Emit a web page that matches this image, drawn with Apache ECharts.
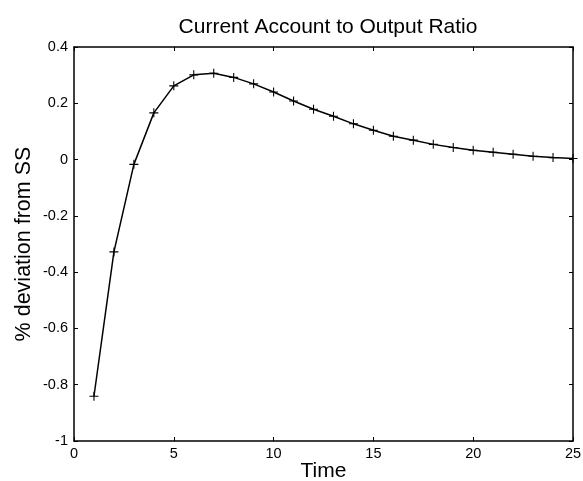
<!DOCTYPE html>
<html><head><meta charset="utf-8">
<script src="https://cdn.jsdelivr.net/npm/echarts@6/dist/echarts.min.js"></script>
<style>html,body{margin:0;padding:0;background:#fff}#c{width:583px;height:481px}</style>
</head><body><div id="c"></div>
<script>
const periods = [1,2,3,4,5,6,7,8,9,10,11,12,13,14,15,16,17,18,19,20,21,22,23,24,25];
const ratio = [-0.841,-0.328,-0.017,0.166,0.262,0.301,0.307,0.292,0.269,0.240,0.208,0.179,0.154,0.127,0.104,0.083,0.069,0.054,0.043,0.033,0.026,0.019,0.012,0.007,0.004];
const titleText = 'Current Account to Output Ratio';
const xName = 'Time';
const yName = '% deviation from SS';

const chart = echarts.init(document.getElementById('c'));
const font = 'Liberation Sans, Arial, sans-serif';
const plus = 'path://M0,4.4H10V5.6H0Z M4.4,0H5.6V10H4.4Z';
const tickIn = {show:true, inside:true, length:4, lineStyle:{color:'#000',width:1}};
const line = {show:true,onZero:false,lineStyle:{color:'#000',width:1.5}};
chart.setOption({
  animation:false,
  title:{text:titleText,left:323,textAlign:'center',top:12,textStyle:{fontFamily:font,fontSize:21,fontWeight:'normal',color:'#000'}},
  grid:{left:74,right:10,top:47,bottom:40,containLabel:false,outerBoundsMode:'none'},
  xAxis:[
    {type:'value',min:0,max:25,interval:5,position:'bottom',
     axisLine:line,axisTick:tickIn,splitLine:{show:false},
     axisLabel:{color:'#000',fontFamily:font,fontSize:14.5,margin:5},
     name:xName,nameLocation:'middle',nameGap:20,nameMoveOverlap:false,
     nameTextStyle:{fontFamily:font,fontSize:21,color:'#000'}},
    {type:'value',min:0,max:25,interval:5,position:'top',
     axisLine:line,axisTick:tickIn,axisLabel:{show:false},splitLine:{show:false}}
  ],
  yAxis:[
    {type:'value',min:-1,max:0.4,interval:0.2,position:'left',
     axisLine:line,axisTick:tickIn,splitLine:{show:false},
     axisLabel:{color:'#000',fontFamily:font,fontSize:14.5,margin:6,formatter:v=>parseFloat(v.toFixed(1)).toString()},
     name:yName,nameLocation:'middle',nameGap:39,nameMoveOverlap:false,nameRotate:90,
     nameTextStyle:{fontFamily:font,fontSize:21.5,color:'#000'}},
    {type:'value',min:-1,max:0.4,interval:0.2,position:'right',
     axisLine:line,axisTick:tickIn,axisLabel:{show:false},splitLine:{show:false}}
  ],
  series:[{
    type:'line',data:periods.map((t,i)=>[t,ratio[i]]),
    lineStyle:{color:'#000',width:1.5},
    symbol:plus,symbolSize:9,showAllSymbol:true,
    itemStyle:{color:'#000',borderWidth:0}
  }]
});
</script></body></html>
